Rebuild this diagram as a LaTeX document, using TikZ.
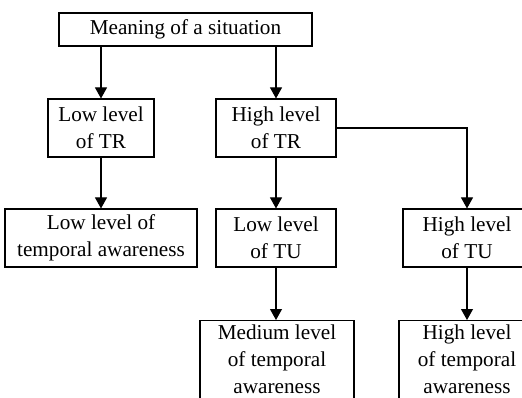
\documentclass[tikz,border=0pt]{standalone}
\usepackage{fontspec}
\setmainfont{Liberation Serif}
\usetikzlibrary{positioning, arrows.meta}

\tikzset{
  box/.style={draw=black, line width=1.1pt, align=center, inner xsep=3pt, inner ysep=4pt,
    font=\fontsize{21.2}{27}\selectfont},
  flow/.style={-{Triangle[width=12pt,length=11pt]}, line width=1.1pt}
}

\begin{document}
\begin{tikzpicture}[x=1pt,y=-1pt]
\path[use as bounding box, clip] (0,0) rectangle (522,398);
\node[box, minimum width=253pt, minimum height=33pt] at (185.5,29.5) (meaning) {Meaning of a situation};
\node[box, minimum width=106pt, minimum height=58pt] at (101,128) (lowtr) {Low level\\of TR};
\node[box, minimum width=120pt, minimum height=58pt] at (276,128) (hightr) {High level\\of TR};
\node[box, minimum width=192pt, minimum height=58pt] at (101,238) (lowaw) {Low level of\\temporal awareness};
\node[box, minimum width=120pt, minimum height=58pt] at (276,238) (lowtu) {Low level\\of TU};
\node[box, minimum width=128pt, minimum height=58pt] at (467,238) (hightu) {High level\\of TU};
\node[box, anchor=north, minimum width=154pt, text depth=20pt] at (277,320) (medaw) {Medium level\\of temporal\\awareness};
\node[box, anchor=north, minimum width=136pt, text depth=20pt] at (467,320) (highaw) {High level\\of temporal\\awareness};
\draw[flow] (meaning.south -| lowtr) -- (lowtr);
\draw[flow] (meaning.south -| hightr) -- (hightr);
\draw[flow] (lowtr) -- (lowaw);
\draw[flow] (hightr) -- (lowtu);
\draw[flow] (hightr.east) -| (hightu);
\draw[flow] (lowtu.south) -- (lowtu.south |- medaw.north);
\draw[flow] (hightu) -- (highaw);
\end{tikzpicture}
\end{document}
